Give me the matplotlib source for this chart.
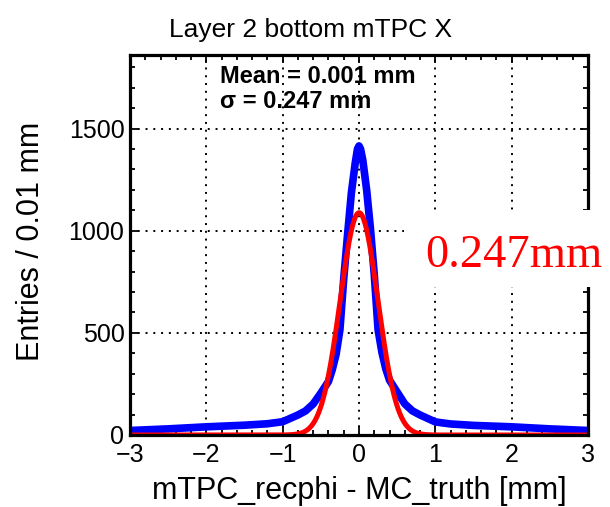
import matplotlib.pyplot as plt
import numpy as np
from matplotlib.patches import Rectangle
from matplotlib.ticker import MultipleLocator

# residual distribution (bin width 0.01 mm)
resid_mm = [-3.0, -2.5, -2.0, -1.5, -1.2, -1.0, -0.8, -0.7, -0.6, -0.5, -0.4,
            -0.35, -0.3, -0.25, -0.2, -0.15, -0.1, -0.05, -0.02, 0.0, 0.02,
            0.05, 0.1, 0.15, 0.2, 0.25, 0.3, 0.35, 0.4, 0.5, 0.6, 0.7, 0.8,
            1.0, 1.2, 1.5, 2.0, 2.5, 3.0]
entries = [22, 30, 40, 48, 55, 65, 98, 118, 152, 205, 262,
           320, 395, 515, 765, 980, 1185, 1330, 1400, 1415, 1400,
           1345, 1200, 1010, 785, 515, 405, 325, 268, 210, 152, 118, 98,
           64, 54, 47, 40, 30, 22]

# gaussian fit parameters
fit_amp = 1088
fit_mean = 0.001
fit_sigma = 0.247

title = "Layer 2 bottom mTPC X"
xlabel = "mTPC_recphi - MC_truth [mm]"
ylabel = "Entries / 0.01 mm"
x_ticks = [-3, -2, -1, 0, 1, 2, 3]
y_ticks = [0, 500, 1000, 1500]

fig = plt.figure(figsize=(6.10, 5.07), dpi=100)
ax = fig.add_axes([130 / 610, 1 - 435 / 507, 458 / 610, 380 / 507])

sans = ["Liberation Sans", "DejaVu Sans"]

ax.plot(resid_mm, entries, color="#0000ff", linewidth=5.5, solid_joinstyle="round",
        solid_capstyle="butt", zorder=3)

xf = np.linspace(-3, 3, 601)
ax.plot(xf, fit_amp * np.exp(-0.5 * ((xf - fit_mean) / fit_sigma) ** 2),
        color="#ff0000", linewidth=3.6, zorder=4)

ax.set_xlim(-3, 3)
ax.set_ylim(0, 1860)
ax.set_xticks(x_ticks)
ax.set_yticks(y_ticks)
ax.set_xticklabels(["\u22123", "\u22122", "\u22121", "0", "1", "2", "3"], family=sans)
ax.set_yticklabels([str(v) for v in y_ticks], family=sans)
ax.xaxis.set_minor_locator(MultipleLocator(0.2))
ax.yaxis.set_minor_locator(MultipleLocator(100))
ax.tick_params(which="both", direction="in", top=True, right=True, width=1.3, colors="black")
ax.tick_params(which="major", length=6, labelsize=18)
ax.tick_params(which="minor", length=3.5)
ax.tick_params(axis="x", which="major", pad=6)
ax.tick_params(axis="y", which="major", pad=4)
ax.grid(True, which="major", color="black", linestyle=(0, (1, 3)), linewidth=1.4, zorder=1)
ax.set_axisbelow(True)
for s in ax.spines.values():
    s.set_linewidth(2.3)
    s.set_zorder(5)

ax.text(0.1965, 0.926, "Mean = 0.001 mm", transform=ax.transAxes, fontsize=17,
        fontweight="bold", family=sans, va="baseline", ha="left", zorder=6)
ax.text(0.1965, 0.861, "\u03c3 = 0.247 mm", transform=ax.transAxes, fontsize=17,
        fontweight="bold", family=sans, va="baseline", ha="left", zorder=6)

fig.text(311 / 610, 1 - 37 / 507, title, fontsize=19, family=sans, ha="center", va="baseline")
fig.text(359 / 610, 1 - 499 / 507, xlabel, fontsize=22, family=sans, ha="center", va="baseline")
fig.text(46 / 610, 1 - 241 / 507, ylabel, fontsize=22, family=sans, rotation=90,
         ha="right", va="center")

# white patch with the sigma annotation
fig.add_artist(Rectangle((404 / 610, 1 - 287 / 507), 206 / 610, 77 / 507,
                         transform=fig.transFigure, facecolor="white", edgecolor="none", zorder=10))
fig.text(425 / 610, 1 - 267 / 507, "0.247mm", fontsize=33.5, color="#ff0000",
         family=["Liberation Serif", "DejaVu Serif"], ha="left", va="baseline", zorder=11)

fig.savefig("out.png", dpi=100)
